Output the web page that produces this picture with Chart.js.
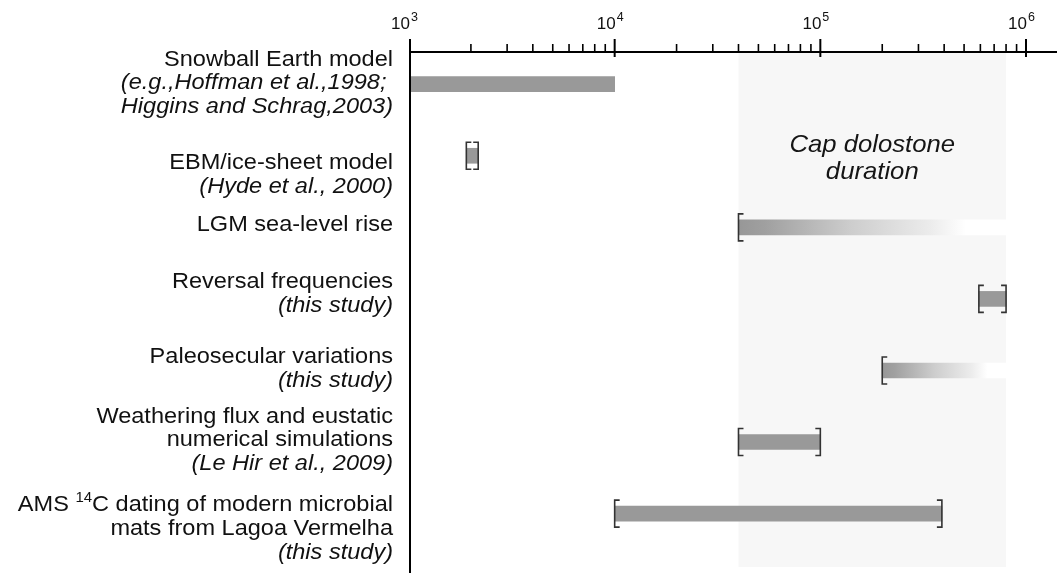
<!DOCTYPE html>
<html>
<head>
<meta charset="utf-8">
<script src="https://cdn.jsdelivr.net/npm/chart.js@4.4.1/dist/chart.umd.min.js"></script>
<style>
  html, body { margin: 0; padding: 0; background: #ffffff; }
  #wrap { width: 1057px; height: 579px; position: relative; }
</style>
</head>
<body>
<div id="wrap"><canvas id="c"></canvas></div>
<script>
// ---------------- DATA ----------------
const categories = [
  ["Snowball Earth model", "(e.g.,Hoffman et al.,1998; ", "Higgins and Schrag,2003)"],
  ["EBM/ice-sheet model", "(Hyde et al., 2000)"],
  ["LGM sea-level rise"],
  ["Reversal frequencies", "(this study)"],
  ["Paleosecular variations", "(this study)"],
  ["Weathering flux and eustatic", "numerical simulations", "(Le Hir et al., 2009)"],
  ["AMS ^{14}C dating of modern microbial", "mats from Lagoa Vermelha", "(this study)"]
];
const italicFrom   = [1, 1, 1, 1, 1, 2, 2];           // first italic line of each label
const startValues  = [1000, 1900, 40000, 590000, 200000, 40000, 10000];   // years
const endValues    = [10000, 2170, 800000, 800000, 800000, 100000, 390000];
const fadeOut      = [false, false, true, false, true, false, false];
const leftBracket  = [false, true, true, true, true, true, true];
const rightBracket = [false, true, false, true, false, true, true];
const capRange     = [40000, 800000];
const capLabel     = ["Cap dolostone", "duration"];
const majorTicks   = [1e3, 1e4, 1e5, 1e6];
const tickLabels   = ["10^{3}", "10^{4}", "10^{5}", "10^{6}"];

// ---------------- LAYOUT / STYLE ----------------
const FONT = '"Liberation Sans", Arial, Helvetica, sans-serif';
const SX = 1.07;                 // slight horizontal stretch of the original typesetting
const labelShift = [-18.5, 13.5, 4, -11, -7.5, -19.5, -2.5];  // first baseline vs bar centre
const LINE_H = 23.7;
const LABEL_RIGHT = 393;

function parseRich(text) {
  const parts = [];
  const re = /\^\{([^}]*)\}/g;
  let last = 0, m;
  while ((m = re.exec(text)) !== null) {
    if (m.index > last) parts.push({t: text.slice(last, m.index), sup: false});
    parts.push({t: m[1], sup: true});
    last = re.lastIndex;
  }
  if (last < text.length) parts.push({t: text.slice(last), sup: false});
  return parts;
}

function drawRich(ctx, text, x, y, opts) {
  const size = opts.size, italic = opts.italic ? 'italic ' : '';
  const supSize = opts.supSize || Math.round(size * 0.62);
  const rise = opts.rise || size * 0.42;
  const parts = parseRich(text);
  const fonts = parts.map(p => italic + (p.sup ? supSize : size) + 'px ' + FONT);
  let total = 0;
  const widths = parts.map((p, k) => { ctx.font = fonts[k]; const w = ctx.measureText(p.t).width; total += w; return w; });
  ctx.save();
  ctx.translate(x, y);
  ctx.scale(opts.sx || 1, 1);
  ctx.textAlign = 'left';
  ctx.textBaseline = 'alphabetic';
  ctx.fillStyle = opts.color || '#111';
  let cx = opts.align === 'right' ? -total : (opts.align === 'center' ? -total / 2 : 0);
  parts.forEach((p, k) => {
    ctx.font = fonts[k];
    ctx.fillText(p.t, cx, p.sup ? -rise : 0);
    cx += widths[k];
  });
  ctx.restore();
}

const capPlugin = {
  id: 'capShade',
  beforeDatasetsDraw(chart) {
    const {ctx, chartArea, scales} = chart;
    const x0 = scales.x.getPixelForValue(capRange[0]);
    const x1 = scales.x.getPixelForValue(capRange[1]);
    ctx.save();
    ctx.fillStyle = '#f7f7f7';
    ctx.fillRect(x0, chartArea.top, x1 - x0, chartArea.bottom - 6 - chartArea.top);
    ctx.restore();
    const cx = (x0 + x1) / 2;
    capLabel.forEach((t, k) => {
      drawRich(ctx, t, cx, 152 + k * 27, {size: 24, italic: true, align: 'center', sx: SX, color: '#151515'});
    });
  }
};

const bracketPlugin = {
  id: 'brackets',
  afterDatasetsDraw(chart) {
    const {ctx, scales} = chart;
    ctx.save();
    ctx.strokeStyle = '#333';
    ctx.lineWidth = 1.6;
    const hh = 13.5, serif = 5;
    for (let i = 0; i < startValues.length; i++) {
      const yc = scales.y.getPixelForValue(i);
      if (leftBracket[i]) {
        const x = scales.x.getPixelForValue(startValues[i]);
        ctx.beginPath();
        ctx.moveTo(x + serif, yc - hh); ctx.lineTo(x, yc - hh);
        ctx.lineTo(x, yc + hh); ctx.lineTo(x + serif, yc + hh);
        ctx.stroke();
      }
      if (rightBracket[i]) {
        const x = scales.x.getPixelForValue(endValues[i]);
        ctx.beginPath();
        ctx.moveTo(x - serif, yc - hh); ctx.lineTo(x, yc - hh);
        ctx.lineTo(x, yc + hh); ctx.lineTo(x - serif, yc + hh);
        ctx.stroke();
      }
    }
    ctx.restore();
  }
};

const axesPlugin = {
  id: 'axesAndLabels',
  afterDraw(chart) {
    const {ctx, chartArea, scales} = chart;
    const xs = scales.x, ys = scales.y;
    const top = chartArea.top;
    ctx.save();
    ctx.strokeStyle = '#000';
    // axis lines
    ctx.lineWidth = 2;
    ctx.beginPath();
    ctx.moveTo(chartArea.left + 1, top); ctx.lineTo(chartArea.right, top);
    ctx.moveTo(chartArea.left + 1, top - 1); ctx.lineTo(chartArea.left + 1, chartArea.bottom);
    ctx.stroke();
    // ticks
    const lo = Math.log10(xs.min), hi = Math.log10(xs.max);
    for (let e = Math.floor(lo); e <= Math.ceil(hi); e++) {
      for (let m = 1; m <= 9; m++) {
        const v = m * Math.pow(10, e);
        if (v < xs.min || v > xs.max) continue;
        let x = xs.getPixelForValue(v);
        if (m === 1) {
          if (v === xs.min) x += 1;
          ctx.lineWidth = 2;
          ctx.beginPath(); ctx.moveTo(x, top - 13); ctx.lineTo(x, top + 5); ctx.stroke();
        } else {
          ctx.lineWidth = 1.6;
          ctx.beginPath(); ctx.moveTo(x, top - 8); ctx.lineTo(x, top); ctx.stroke();
        }
      }
    }
    // tick labels (10 + superscript exponent)
    majorTicks.forEach((v, k) => {
      const x = xs.getPixelForValue(v);
      const parts = parseRich(tickLabels[k]);
      ctx.fillStyle = '#111';
      ctx.textBaseline = 'alphabetic';
      ctx.font = '17px ' + FONT;
      ctx.textAlign = 'right';
      ctx.fillText(parts[0].t, x + 1, 29);
      ctx.font = '12.5px ' + FONT;
      ctx.textAlign = 'left';
      ctx.fillText(parts[1].t, x + 2, 21);
    });
    ctx.restore();
    // category labels
    categories.forEach((lines, i) => {
      const yc = ys.getPixelForValue(i);
      lines.forEach((t, k) => {
        drawRich(ctx, t, LABEL_RIGHT, yc + labelShift[i] + k * LINE_H, {
          size: 22, italic: k >= italicFrom[i], align: 'right', sx: SX,
          supSize: 14, rise: 9, color: '#111'
        });
      });
    });
  }
};

const data = {
  datasets: [{
    data: startValues.map((s, i) => ({x: [s, endValues[i]], y: i})),
    backgroundColor: (c) => {
      const i = c.dataIndex;
      const chart = c.chart;
      if (!fadeOut[i] || !chart.chartArea) return '#999999';
      const xs = chart.scales.x;
      const x0 = xs.getPixelForValue(startValues[i]);
      const x1 = xs.getPixelForValue(endValues[i]);
      const g = chart.ctx.createLinearGradient(x0, 0, x1, 0);
      g.addColorStop(0, '#979797');
      g.addColorStop(0.1, '#a0a0a0');
      g.addColorStop(0.42, '#cdcdcd');
      g.addColorStop(0.72, '#ececec');
      g.addColorStop(0.85, '#ffffff');
      g.addColorStop(1, '#ffffff');
      return g;
    },
    borderWidth: 0,
    borderSkipped: false,
    barThickness: 15
  }]
};

new Chart(document.getElementById('c'), {
  type: 'bar',
  data,
  options: {
    indexAxis: 'y',
    responsive: true,
    maintainAspectRatio: false,
    animation: false,
    layout: { padding: { left: 409, top: 52, right: 0, bottom: 6 } },
    scales: {
      x: { type: 'logarithmic', min: 1000, max: 1.415e6, display: false },
      y: { type: 'linear', min: -0.45, max: 6.83, reverse: true, offset: false, display: false }
    },
    plugins: { legend: { display: false }, tooltip: { enabled: false } }
  },
  plugins: [capPlugin, bracketPlugin, axesPlugin]
});
</script>
</body>
</html>
